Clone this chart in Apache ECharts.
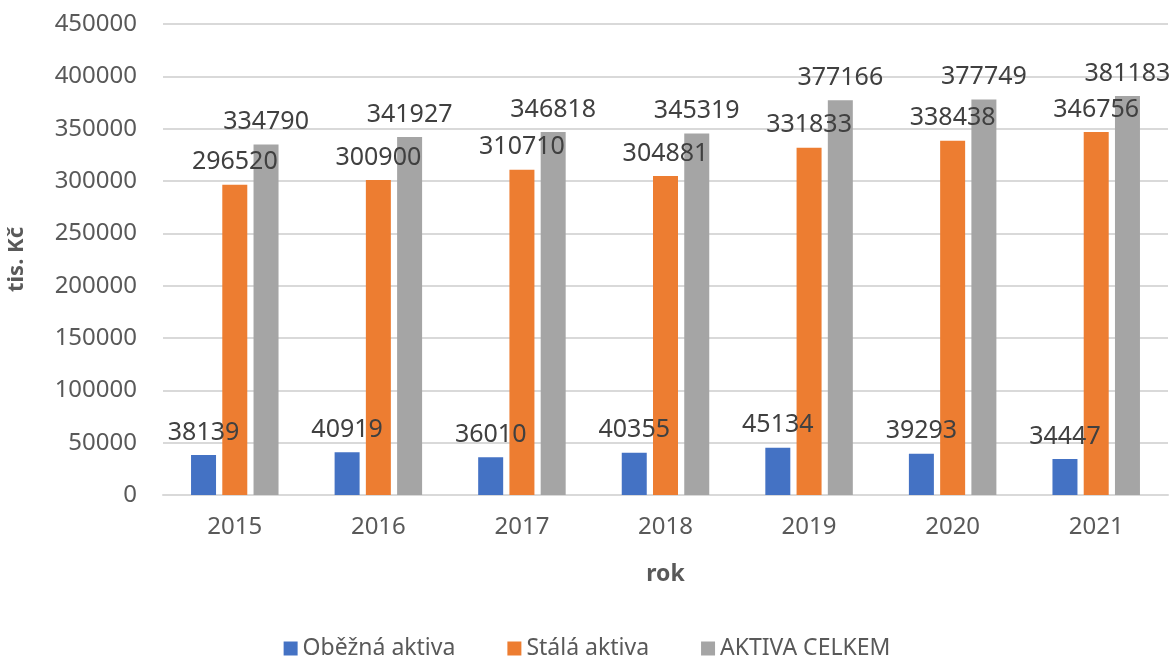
<!DOCTYPE html>
<html>
<head>
<meta charset="utf-8">
<script src="https://cdn.jsdelivr.net/npm/echarts@6/dist/echarts.min.js"></script>
<style>
  html, body { margin: 0; padding: 0; background: #fff; }
  #chart { width: 1174px; height: 657px; }
</style>
</head>
<body>
<div id="chart"></div>
<script>
const years = ['2015', '2016', '2017', '2018', '2019', '2020', '2021']
const obeznaAktiva = [38139, 40919, 36010, 40355, 45134, 39293, 34447]
const stalaAktiva = [296520, 300900, 310710, 304881, 331833, 338438, 346756]
const aktivaCelkem = [334790, 341927, 346818, 345319, 377166, 377749, 381183]

const font = 'Noto Sans'
const seriesDefault = {
  type: 'bar',
  barWidth: 25,
  barGap: '25%',
  label: {
    show: true,
    position: 'top',
    distance: 10,
    color: '#404040',
    fontSize: 25,
    fontFamily: font
  }
}

const chart = echarts.init(document.getElementById('chart'))
chart.setOption({
  animation: false,
  color: ['#4472C4', '#ED7D31', '#A5A5A5'],
  grid: { left: 163, right: 6, top: 24, bottom: 162, outerBoundsMode: 'none' },
  legend: {
    top: 632,
    left: 'center',
    itemWidth: 14,
    itemHeight: 14,
    itemGap: 52,
    icon: 'rect',
    textStyle: { color: '#595959', fontSize: 23, fontFamily: font }
  },
  xAxis: {
    type: 'category',
    data: years,
    name: 'rok',
    nameLocation: 'middle',
    nameGap: 68,
    nameTextStyle: { color: '#595959', fontSize: 23, fontWeight: 'bold', fontFamily: font },
    axisLine: { lineStyle: { color: '#D9D9D9', width: 2 } },
    axisTick: { show: false },
    axisLabel: { color: '#595959', fontSize: 24, fontFamily: font, margin: 20 }
  },
  yAxis: {
    type: 'value',
    min: 0,
    max: 450000,
    interval: 50000,
    name: 'tis. Kč',
    nameLocation: 'middle',
    nameGap: 135,
    nameTextStyle: { color: '#595959', fontSize: 22, fontWeight: 'bold', fontFamily: font },
    splitLine: { lineStyle: { color: '#D9D9D9', width: 2 } },
    axisLabel: {
      color: '#595959', fontSize: 24, fontFamily: font, margin: 26,
      formatter: v => String(v)
    }
  },
  series: [
    { ...seriesDefault, name: 'Oběžná aktiva', data: obeznaAktiva },
    { ...seriesDefault, name: 'Stálá aktiva', data: stalaAktiva },
    { ...seriesDefault, name: 'AKTIVA CELKEM', data: aktivaCelkem }
  ]
})
</script>
</body>
</html>
